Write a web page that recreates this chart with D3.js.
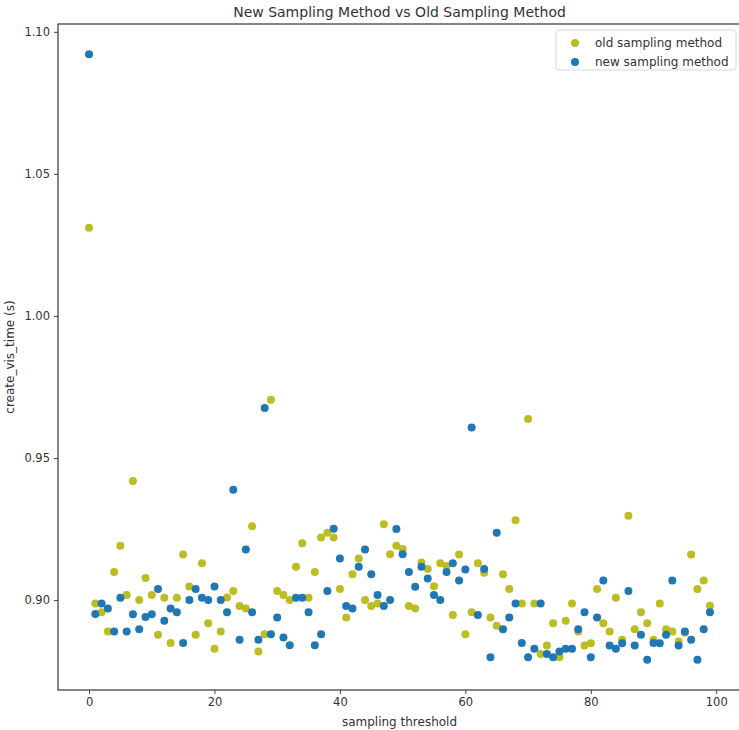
<!DOCTYPE html>
<html>
<head>
<meta charset="utf-8">
<script src="https://cdn.jsdelivr.net/npm/d3@7"></script>
<style>
  html, body { margin: 0; padding: 0; background: #fff; }
  svg { display: block; }
  text { font-family: "DejaVu Sans", sans-serif; fill: #333; }
</style>
</head>
<body>
<svg id="chart" width="739" height="730"></svg>
<script>
const thresholds = d3.range(0, 100);
const oldTimes = [
  1.031, 0.8988, 0.8957, 0.8889, 0.9099, 0.9191, 0.9018, 0.9419, 0.9000, 0.9078,
  0.9018, 0.8878, 0.9008, 0.8849, 0.9008, 0.9160, 0.9048, 0.8878, 0.9130, 0.8918,
  0.8829, 0.8889, 0.9009, 0.9032, 0.8979, 0.8970, 0.9260, 0.8819, 0.8880, 0.9705,
  0.9032, 0.9018, 0.9000, 0.9117, 0.9200, 0.9008, 0.9099, 0.9220, 0.9237, 0.9220,
  0.9039, 0.8939, 0.9091, 0.9146, 0.9000, 0.8979, 0.8988, 0.9267, 0.9161, 0.9191,
  0.9180, 0.8979, 0.8970, 0.9132, 0.9109, 0.9049, 0.9130, 0.9120, 0.8947, 0.9160,
  0.8880, 0.8957, 0.9130, 0.9096, 0.8939, 0.8910, 0.9091, 0.9039, 0.9281, 0.8988,
  0.9637, 0.8988, 0.8810, 0.8840, 0.8918, 0.8799, 0.8927, 0.8988, 0.8889, 0.8840,
  0.8848, 0.9039, 0.8918, 0.8889, 0.9008, 0.8860, 0.9297, 0.8897, 0.8957, 0.8918,
  0.8860, 0.8988, 0.8897, 0.8889, 0.8854, 0.8885, 0.9160, 0.9039, 0.9069, 0.8980
];
const newTimes = [
  1.0921, 0.8951, 0.8988, 0.8970, 0.8889, 0.9008, 0.8889, 0.8950, 0.8897, 0.8940,
  0.8950, 0.9039, 0.8927, 0.8970, 0.8957, 0.8849, 0.9000, 0.9039, 0.9008, 0.9000,
  0.9048, 0.9000, 0.8957, 0.9388, 0.8860, 0.9178, 0.8957, 0.8860, 0.9676, 0.8880,
  0.8939, 0.8868, 0.8841, 0.9008, 0.9008, 0.8957, 0.8841, 0.8880, 0.9032, 0.9251,
  0.9146, 0.8979, 0.8970, 0.9117, 0.9178, 0.9091, 0.9018, 0.8979, 0.9000, 0.9250,
  0.9161, 0.9099, 0.9047, 0.9117, 0.9076, 0.9018, 0.9000, 0.9099, 0.9130, 0.9069,
  0.9108, 0.9607, 0.8947, 0.9109, 0.8799, 0.9237, 0.8897, 0.8939, 0.8988, 0.8849,
  0.8799, 0.8829, 0.8988, 0.8810, 0.8799, 0.8819, 0.8829, 0.8829, 0.8897, 0.8957,
  0.8799, 0.8939, 0.9069, 0.8840, 0.8829, 0.8848, 0.9032, 0.8840, 0.8878, 0.8790,
  0.8849, 0.8848, 0.8878, 0.9069, 0.8840, 0.8889, 0.8860, 0.8790, 0.8897, 0.8957
];
const xTicks = [0, 20, 40, 60, 80, 100];
const yTicks = [0.90, 0.95, 1.00, 1.05, 1.10];
const seriesNames = ["old sampling method", "new sampling method"];
const seriesColors = ["#bcbd22", "#1f77b4"];

const svg = d3.select("#chart");
const margin = { left: 58, top: 24, right: 741, bottom: 690 };

function padDomain(vals) {
  const [lo, hi] = d3.extent(vals);
  const pad = (hi - lo) * 0.05;
  return [lo - pad, hi + pad];
}
const x = d3.scaleLinear().domain(padDomain(thresholds)).range([margin.left, margin.right]);
const y = d3.scaleLinear().domain(padDomain(oldTimes.concat(newTimes))).range([margin.bottom, margin.top]);

// points
const series = [oldTimes, newTimes];
series.forEach((vals, i) => {
  svg.append("g").selectAll("circle")
    .data(vals)
    .join("circle")
    .attr("cx", (d, j) => x(thresholds[j]))
    .attr("cy", d => y(d))
    .attr("r", 4)
    .attr("fill", seriesColors[i]);
});

// axes
const xAxis = d3.axisBottom(x).tickValues(xTicks).tickSize(4).tickPadding(4).tickFormat(d3.format("d"));
const yAxis = d3.axisLeft(y).tickValues(yTicks).tickSize(4).tickPadding(4).tickFormat(d3.format(".2f"));
const gx = svg.append("g").attr("transform", `translate(0,${margin.bottom})`).call(xAxis);
const gy = svg.append("g").attr("transform", `translate(${margin.left},0)`).call(yAxis);
[gx, gy].forEach(g => {
  g.select(".domain").remove();
  g.selectAll(".tick line").attr("stroke", "#444").attr("stroke-width", 1);
  g.selectAll(".tick text").attr("font-size", 11.5).attr("fill", "#333").style("font-family", "'DejaVu Sans', sans-serif");
});

// spines
svg.append("rect")
  .attr("x", margin.left).attr("y", margin.top)
  .attr("width", margin.right - margin.left).attr("height", margin.bottom - margin.top)
  .attr("fill", "none").attr("stroke", "#444").attr("stroke-width", 1.3);

// title & labels
svg.append("text").attr("x", (margin.left + margin.right) / 2).attr("y", 17)
  .attr("text-anchor", "middle").attr("font-size", 14)
  .text("New Sampling Method vs Old Sampling Method");
svg.append("text").attr("x", (margin.left + margin.right) / 2).attr("y", 726)
  .attr("text-anchor", "middle").attr("font-size", 12)
  .text("sampling threshold");
svg.append("text")
  .attr("transform", `translate(14,${(margin.top + margin.bottom) / 2}) rotate(-90)`)
  .attr("text-anchor", "middle").attr("font-size", 12)
  .text("create_vis_time (s)");

// legend
const lg = svg.append("g");
lg.append("rect").attr("x", 556).attr("y", 30).attr("width", 180).attr("height", 40)
  .attr("rx", 3).attr("fill", "#fff").attr("fill-opacity", 0.8)
  .attr("stroke", "#d8d8d8");
seriesNames.forEach((name, i) => {
  lg.append("circle").attr("cx", 575).attr("cy", 43 + i * 19).attr("r", 4).attr("fill", seriesColors[i]);
  lg.append("text").attr("x", 595).attr("y", 47 + i * 19).attr("font-size", 12).text(name);
});
</script>
</body>
</html>
